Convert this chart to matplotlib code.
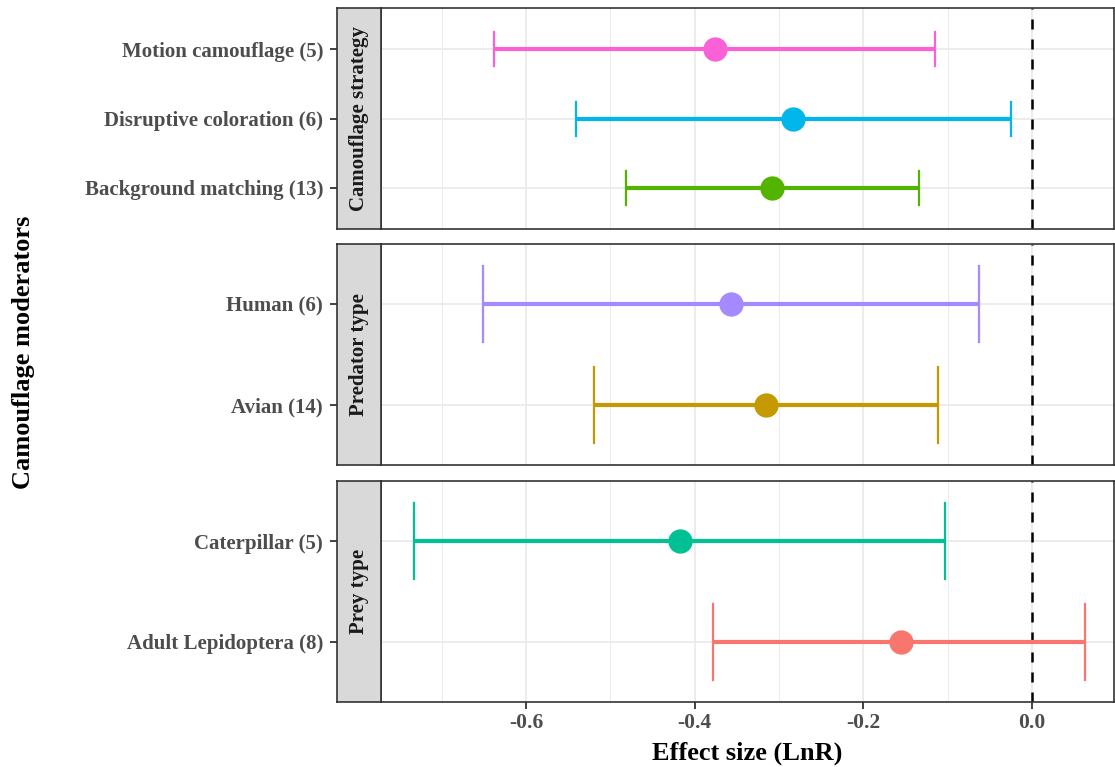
import matplotlib.pyplot as plt
from matplotlib.ticker import MultipleLocator

# Data per facet (ordered bottom to top within each panel)
strategy_labels = ["Background matching (13)", "Disruptive coloration (6)", "Motion camouflage (5)"]
strategy_est = [-0.308, -0.284, -0.376]
strategy_lo = [-0.482, -0.541, -0.638]
strategy_hi = [-0.134, -0.025, -0.115]
strategy_colors = ["#53B400", "#00B6EB", "#FB61D7"]

predator_labels = ["Avian (14)", "Human (6)"]
predator_est = [-0.316, -0.357]
predator_lo = [-0.520, -0.651]
predator_hi = [-0.112, -0.063]
predator_colors = ["#C49A00", "#A58AFF"]

prey_labels = ["Adult Lepidoptera (8)", "Caterpillar (5)"]
prey_est = [-0.156, -0.418]
prey_lo = [-0.378, -0.733]
prey_hi = [0.063, -0.103]
prey_colors = ["#F8766D", "#00C094"]

facets = [
    ("Camouflage strategy", strategy_labels, strategy_est, strategy_lo, strategy_hi, strategy_colors),
    ("Predator type", predator_labels, predator_est, predator_lo, predator_hi, predator_colors),
    ("Prey type", prey_labels, prey_est, prey_lo, prey_hi, prey_colors),
]

SERIF = "Liberation Serif"
W, H = 1115, 767
fig = plt.figure(figsize=(W / 100, H / 100), dpi=100)

# panel pixel extents (top, bottom)
panel_rows = [(8, 229), (244, 465), (481, 702)]
strip_left, panel_left, panel_right = 337, 381, 1114
cap_px = [34, 76, 76]

for i, ((name, labels, est, lo, hi, cols), (top, bot)) in enumerate(zip(facets, panel_rows)):
    y0 = 1 - bot / H
    h = (bot - top) / H
    ax = fig.add_axes([panel_left / W, y0, (panel_right - panel_left) / W, h])
    sax = fig.add_axes([strip_left / W, y0, (panel_left - strip_left) / W, h], sharey=ax)

    n = len(labels)
    ypos = list(range(1, n + 1))
    ax.set_ylim(0.4, n + 0.6)
    ax.set_xlim(-0.772, 0.097)

    # grid
    ax.xaxis.set_major_locator(MultipleLocator(0.2))
    ax.xaxis.set_minor_locator(MultipleLocator(0.1))
    ax.grid(which="major", axis="both", color="#EBEBEB", lw=1.3, zorder=0)
    ax.grid(which="minor", axis="x", color="#EBEBEB", lw=0.7, zorder=0)
    ax.set_axisbelow(True)

    ax.axvline(0, color="black", ls=(0, (4, 4)), lw=1.8, zorder=1)

    units_per_px = (n + 0.2) / (bot - top)
    half_cap = cap_px[i] / 2 * units_per_px
    for y, e, l, u, c in zip(ypos, est, lo, hi, cols):
        ax.plot([l, u], [y, y], color=c, lw=3.0, solid_capstyle="butt", zorder=2)
        ax.plot([l, l], [y - half_cap, y + half_cap], color=c, lw=1.6, zorder=2)
        ax.plot([u, u], [y - half_cap, y + half_cap], color=c, lw=1.6, zorder=2)
        ax.plot(e, y, "o", color=c, ms=17.5, mec="none", zorder=3)

    for sp in ax.spines.values():
        sp.set_color("#333333")
        sp.set_linewidth(1.2)
    ax.tick_params(axis="y", left=False, labelleft=False)

    # strip on the left with y tick labels outside
    sax.set_facecolor("#D9D9D9")
    sax.set_xticks([])
    sax.set_yticks(ypos)
    sax.set_yticklabels(labels, fontfamily=SERIF, fontweight="bold", fontsize=15, color="#4D4D4D")
    sax.tick_params(axis="y", length=5, width=1.3, color="#333333", pad=5)
    for sp in sax.spines.values():
        sp.set_color("#333333")
        sp.set_linewidth(1.2)
    sax.text(0.5, 0.5, name, transform=sax.transAxes, rotation=90, ha="center", va="center",
             fontfamily=SERIF, fontweight="bold", fontsize=15, color="#1A1A1A")

    if i < 2:
        ax.tick_params(axis="x", which="both", bottom=False, labelbottom=False)
    else:
        ax.tick_params(axis="x", which="minor", length=0)
        ax.tick_params(axis="x", which="major", length=5, width=1.3, color="#333333", pad=3)
        ax.set_xticklabels([f"{t:.1f}" for t in ax.get_xticks()],
                           fontfamily=SERIF, fontweight="bold", fontsize=15.5, color="#4D4D4D")
        ax.set_xlabel("Effect size (LnR)", fontfamily=SERIF, fontweight="bold", fontsize=19, labelpad=6)

fig.text(24 / W, 1 - 352 / H, "Camouflage moderators", rotation=90, ha="center", va="center",
         fontfamily=SERIF, fontweight="bold", fontsize=19)

fig.savefig("out.png", dpi=100)
